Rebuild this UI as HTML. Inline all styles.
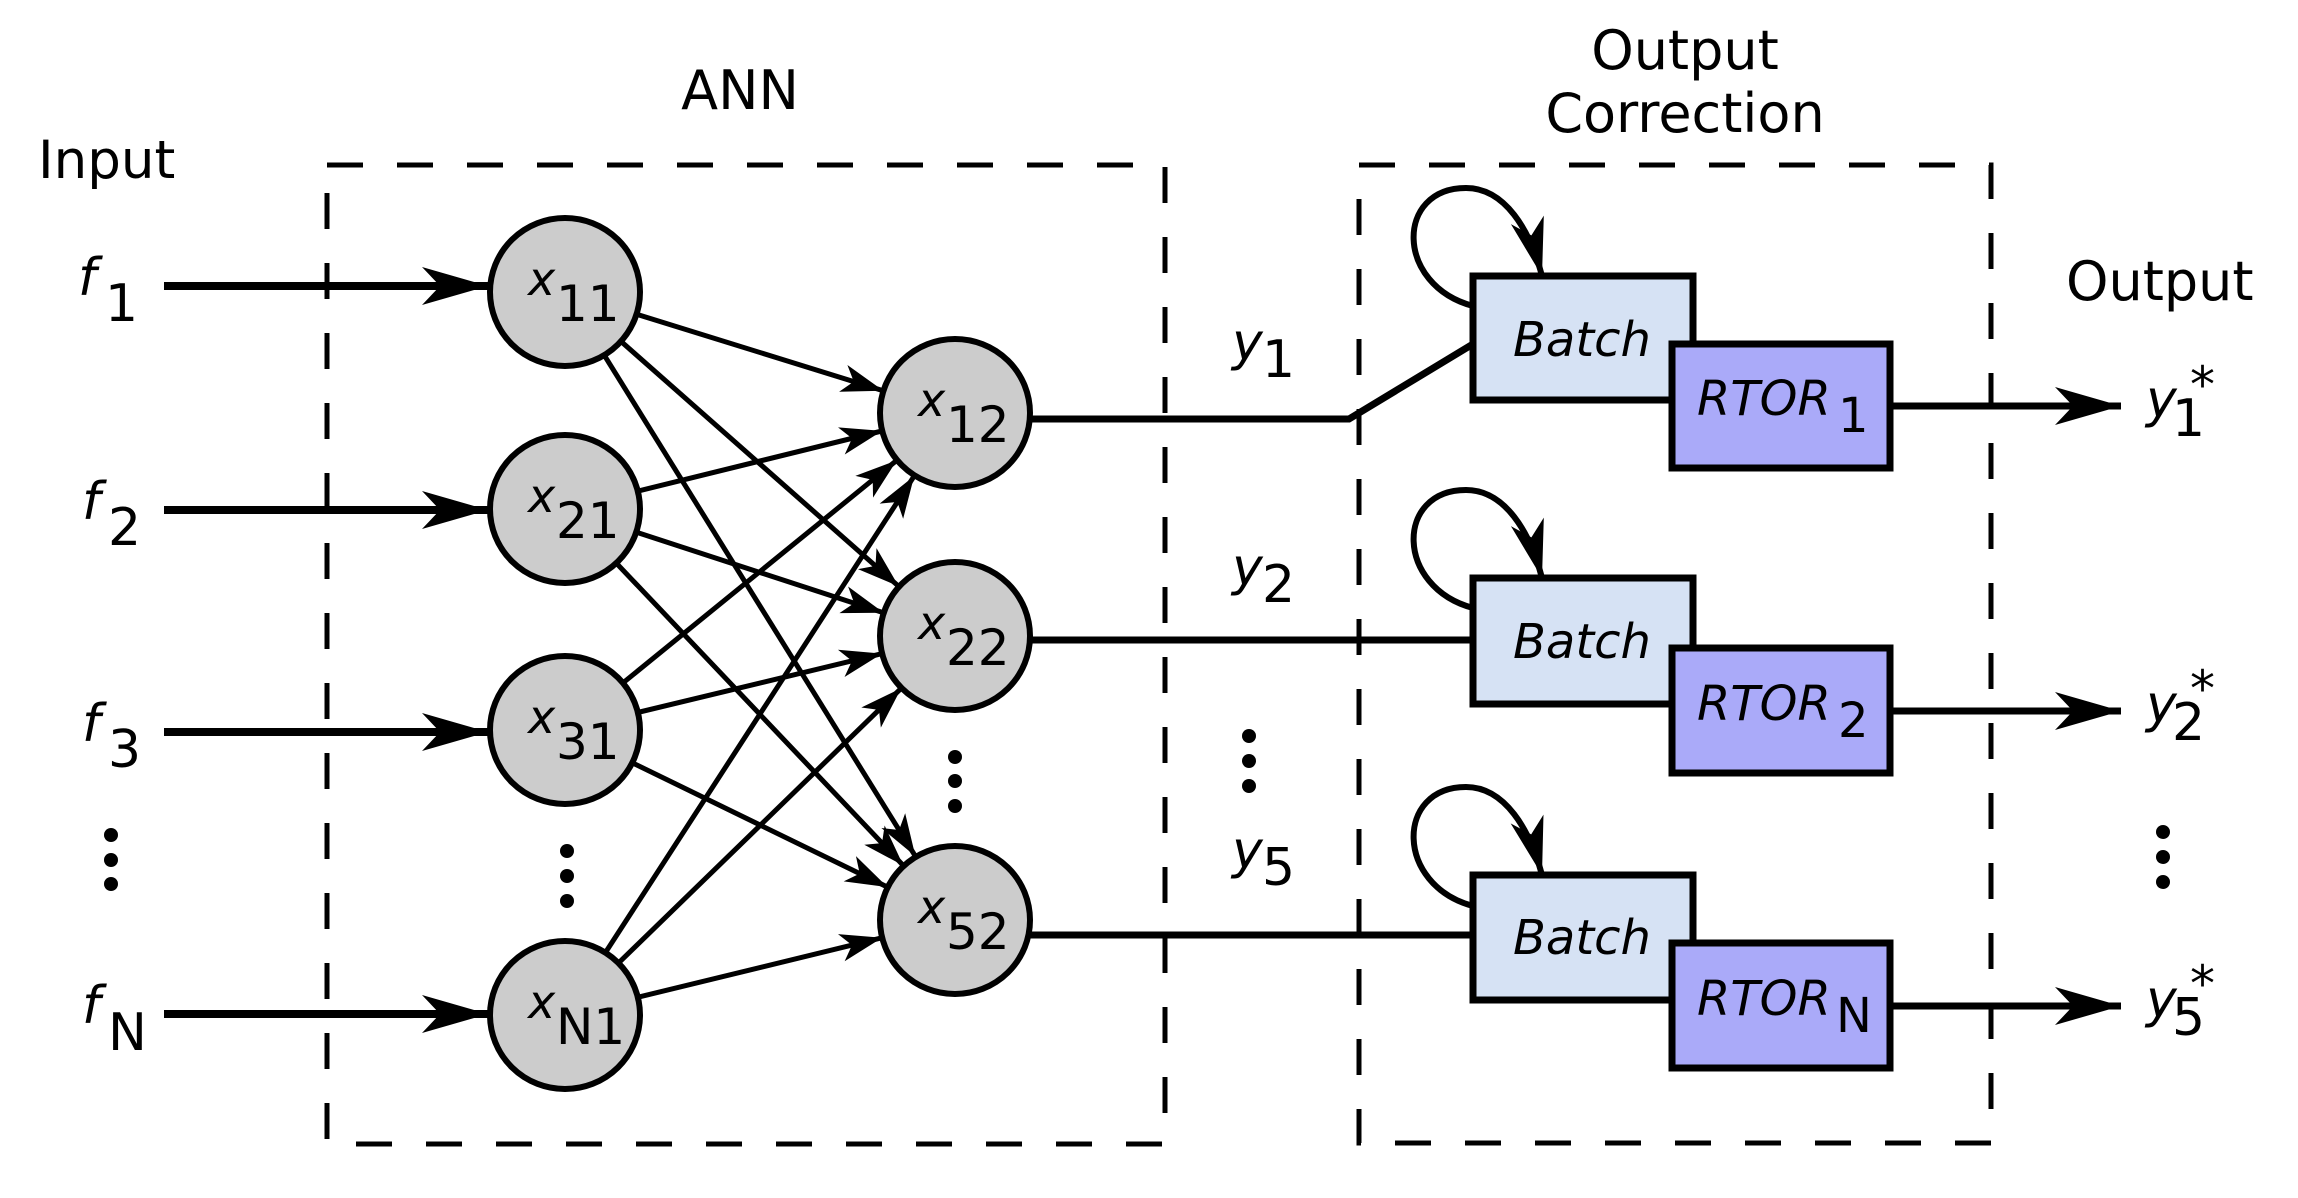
<!DOCTYPE html>
<html><head><meta charset="utf-8"><style>
html,body{margin:0;padding:0;background:#fff;}
svg{display:block;}
text{font-family:"DejaVu Sans","Liberation Sans",sans-serif;fill:#000;}
.it{font-style:italic;}
</style></head><body>
<svg width="2298" height="1198" viewBox="0 0 2298 1198" xmlns="http://www.w3.org/2000/svg">
<defs>
<marker id="big" markerUnits="userSpaceOnUse" orient="auto" refX="0" refY="0" markerWidth="10" markerHeight="10" overflow="visible">
<path d="M0,0 L-66,-19 L-48,0 L-66,19 Z" fill="#000"/>
</marker>
<marker id="sm" markerUnits="userSpaceOnUse" orient="auto" refX="75" refY="0" markerWidth="10" markerHeight="10" overflow="visible">
<path d="M0,0 L-42,-14 L-31,0 L-42,14 Z" fill="#000"/>
</marker>
<marker id="loop" markerUnits="userSpaceOnUse" orient="auto" refX="0" refY="0" markerWidth="10" markerHeight="10" overflow="visible">
<path d="M0,0 L-58,-17 L-42,0 L-58,17 Z" fill="#000"/>
</marker>
</defs>

<g fill="none" stroke="#000" stroke-width="5" stroke-dasharray="36,34">
<rect x="327" y="165" width="838" height="979"/>
<rect x="1359" y="165" width="632" height="978"/>
</g>

<text x="38" y="178" font-size="53">Input</text>
<text x="740" y="109" font-size="54" text-anchor="middle">ANN</text>
<text x="1685" y="69" font-size="54" text-anchor="middle">Output</text>
<text x="1685" y="132" font-size="54" text-anchor="middle">Correction</text>
<text x="2066" y="300" font-size="54">Output</text>

<g stroke="#000" stroke-width="8" marker-end="url(#big)">
<line x1="164" y1="286" x2="488" y2="286"/>
<line x1="164" y1="510" x2="488" y2="510"/>
<line x1="164" y1="732" x2="488" y2="732"/>
<line x1="164" y1="1014" x2="488" y2="1014"/>
</g>
<g font-size="52">
<text class="it" x="78" y="295">f</text><text x="105" y="321">1</text>
<text class="it" x="82" y="519">f</text><text x="108" y="545">2</text>
<text class="it" x="82" y="741">f</text><text x="108" y="767">3</text>
<text class="it" x="82" y="1023">f</text><text x="108" y="1050">N</text>
</g>

<g stroke="#000" stroke-width="5" marker-end="url(#sm)">
<line x1="565" y1="292" x2="955" y2="413"/>
<line x1="565" y1="292" x2="955" y2="636"/>
<line x1="565" y1="292" x2="955" y2="920"/>
<line x1="565" y1="509" x2="955" y2="413"/>
<line x1="565" y1="509" x2="955" y2="636"/>
<line x1="565" y1="509" x2="955" y2="920"/>
<line x1="565" y1="730" x2="955" y2="413"/>
<line x1="565" y1="730" x2="955" y2="636"/>
<line x1="565" y1="730" x2="955" y2="920"/>
<line x1="565" y1="1015" x2="955" y2="413"/>
<line x1="565" y1="1015" x2="955" y2="636"/>
<line x1="565" y1="1015" x2="955" y2="920"/>
</g>

<g fill="none" stroke="#000" stroke-width="7">
<polyline points="1030,419 1349,419 1473,344"/>
<line x1="1030" y1="640" x2="1473" y2="640"/>
<line x1="1030" y1="935" x2="1473" y2="935"/>
</g>

<g fill="#cccccc" stroke="#000" stroke-width="6">
<ellipse cx="565" cy="292" rx="75" ry="74"/>
<ellipse cx="565" cy="509" rx="75" ry="74"/>
<ellipse cx="565" cy="730" rx="75" ry="74"/>
<ellipse cx="565" cy="1015" rx="75" ry="74"/>
<ellipse cx="955" cy="413" rx="75" ry="74"/>
<ellipse cx="955" cy="636" rx="75" ry="74"/>
<ellipse cx="955" cy="920" rx="75" ry="74"/>
</g>
<g>
<text class="it" x="528" y="295" font-size="46">x</text><text x="556" y="321" font-size="50">11</text>
<text class="it" x="528" y="512" font-size="46">x</text><text x="556" y="538" font-size="50">21</text>
<text class="it" x="528" y="733" font-size="46">x</text><text x="556" y="759" font-size="50">31</text>
<text class="it" x="528" y="1018" font-size="46">x</text><text x="556" y="1044" font-size="50">N1</text>
<text class="it" x="918" y="416" font-size="46">x</text><text x="946" y="442" font-size="50">12</text>
<text class="it" x="918" y="639" font-size="46">x</text><text x="946" y="665" font-size="50">22</text>
<text class="it" x="918" y="923" font-size="46">x</text><text x="946" y="949" font-size="50">52</text>
</g>

<g fill="#000">
<circle cx="111" cy="835" r="7"/><circle cx="111" cy="860" r="7"/><circle cx="111" cy="884" r="7"/>
<circle cx="567" cy="851" r="7"/><circle cx="567" cy="876" r="7"/><circle cx="567" cy="901" r="7"/>
<circle cx="955" cy="757" r="7"/><circle cx="955" cy="781" r="7"/><circle cx="955" cy="806" r="7"/>
<circle cx="1249" cy="736" r="7"/><circle cx="1249" cy="761" r="7"/><circle cx="1249" cy="786" r="7"/>
<circle cx="2163" cy="832" r="7"/><circle cx="2163" cy="857" r="7"/><circle cx="2163" cy="882" r="7"/>
</g>

<g font-size="52">
<text class="it" x="1232" y="360">y</text><text x="1262" y="377">1</text>
<text class="it" x="1232" y="585">y</text><text x="1262" y="602">2</text>
<text class="it" x="1232" y="868">y</text><text x="1262" y="885">5</text>
</g>

<g fill="none" stroke="#000" stroke-width="6" marker-end="url(#loop)">
<path d="M1473,306 C1395,285 1395,188 1466,188 C1505,188 1530,230 1542,276"/>
<path d="M1473,608 C1395,587 1395,490 1466,490 C1505,490 1530,532 1542,578"/>
<path d="M1473,906 C1395,885 1395,787 1466,787 C1505,787 1530,830 1542,875"/>
</g>

<g stroke="#000" stroke-width="7" marker-end="url(#big)">
<line x1="1890" y1="406" x2="2121" y2="406"/>
<line x1="1890" y1="711" x2="2121" y2="711"/>
<line x1="1890" y1="1006" x2="2121" y2="1006"/>
</g>

<g stroke="#000" stroke-width="7">
<rect x="1473" y="276" width="220" height="124" fill="#d6e2f4"/>
<rect x="1672" y="344" width="218" height="124" fill="#aaaaf9"/>
<rect x="1473" y="578" width="220" height="126" fill="#d6e2f4"/>
<rect x="1672" y="648" width="218" height="125" fill="#aaaaf9"/>
<rect x="1473" y="875" width="220" height="125" fill="#d6e2f4"/>
<rect x="1672" y="943" width="218" height="125" fill="#aaaaf9"/>
</g>
<g font-size="48">
<text class="it" x="1513" y="356">Batch</text>
<text class="it" x="1513" y="658">Batch</text>
<text class="it" x="1513" y="954">Batch</text>
<text class="it" x="1697" y="415">RTOR</text><text x="1838" y="432">1</text>
<text class="it" x="1697" y="720">RTOR</text><text x="1838" y="737">2</text>
<text class="it" x="1697" y="1015">RTOR</text><text x="1836" y="1032">N</text>
</g>

<g font-size="52">
<text class="it" x="2146" y="417">y</text><text x="2172" y="436">1</text><text x="2190" y="402" font-size="50">*</text>
<text class="it" x="2146" y="722">y</text><text x="2172" y="740">2</text><text x="2190" y="706" font-size="50">*</text>
<text class="it" x="2146" y="1017">y</text><text x="2172" y="1035">5</text><text x="2190" y="1001" font-size="50">*</text>
</g>
</svg>
</body></html>
